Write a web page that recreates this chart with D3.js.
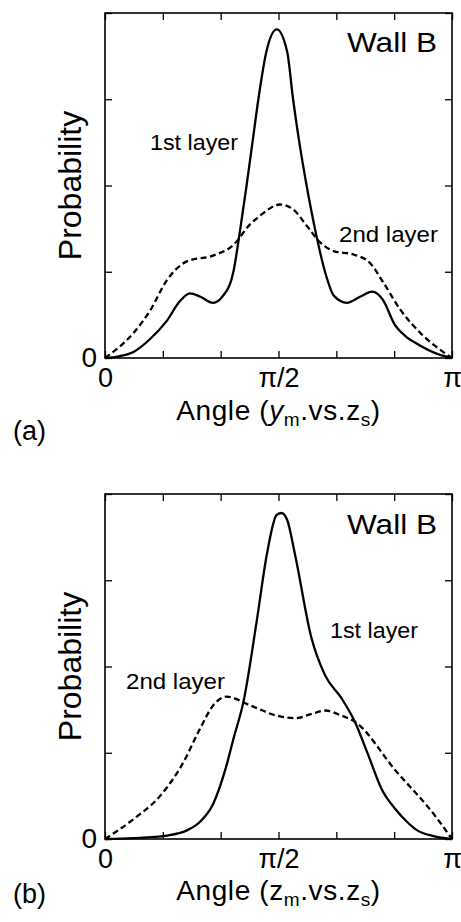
<!DOCTYPE html>
<html>
<head>
<meta charset="utf-8">
<script src="https://cdn.jsdelivr.net/npm/d3@7/dist/d3.min.js"></script>
<style>
  body { margin: 0; background: #fff; }
  text { font-family: "Liberation Sans", Arial, sans-serif; fill: #000; }
</style>
</head>
<body>
<div id="chart"></div>
<script>
// angles are in units of pi, probability in units of the y tick step

// panel (a): ym vs zs
let angA1 = [0, 0.04, 0.082, 0.13, 0.178, 0.216, 0.245, 0.275, 0.311, 0.34, 0.37, 0.39, 0.408, 0.425, 0.442, 0.465, 0.495, 0.525, 0.542, 0.56, 0.581, 0.605, 0.634, 0.66, 0.697, 0.735, 0.77, 0.80, 0.836, 0.87, 0.893, 0.95, 1]
let probA1 = [0, 0.02, 0.07, 0.22, 0.43, 0.66, 0.75, 0.71, 0.64, 0.72, 1.0, 1.5, 2.0, 2.5, 3.0, 3.55, 3.81, 3.55, 3.0, 2.5, 2.0, 1.5, 1.0, 0.72, 0.64, 0.71, 0.77, 0.68, 0.38, 0.24, 0.18, 0.06, 0]
let angA2 = [0, 0.082, 0.13, 0.178, 0.236, 0.313, 0.37, 0.418, 0.447, 0.504, 0.543, 0.582, 0.62, 0.659, 0.716, 0.764, 0.803, 0.851, 0.909, 1]
let probA2 = [0, 0.29, 0.55, 0.9, 1.12, 1.19, 1.31, 1.55, 1.65, 1.78, 1.72, 1.53, 1.34, 1.24, 1.2, 1.1, 0.87, 0.56, 0.29, 0]

// panel (b): zm vs zs
let angB1 = [0, 0.082, 0.178, 0.236, 0.274, 0.312, 0.35, 0.37, 0.399, 0.437, 0.466, 0.495, 0.509, 0.525, 0.548, 0.595, 0.634, 0.682, 0.72, 0.759, 0.797, 0.836, 0.87, 0.9, 0.95, 1]
let probB1 = [0, 0.01, 0.04, 0.1, 0.2, 0.41, 0.85, 1.16, 1.59, 2.52, 3.29, 3.76, 3.78, 3.7, 3.29, 2.33, 1.9, 1.63, 1.36, 0.97, 0.58, 0.35, 0.2, 0.1, 0.03, 0]
let angB2 = [0, 0.082, 0.159, 0.226, 0.274, 0.312, 0.35, 0.418, 0.495, 0.548, 0.595, 0.634, 0.682, 0.72, 0.836, 0.951, 1]
let probB2 = [0, 0.23, 0.5, 0.89, 1.28, 1.55, 1.65, 1.55, 1.43, 1.40, 1.45, 1.49, 1.43, 1.36, 0.8, 0.27, 0]

let xTicks = [0, 1/6, 2/6, 3/6, 4/6, 5/6, 1]
let xTickLabels = ["0", "", "", "\u03c0/2", "", "", "\u03c0"]
let yTicks = [0, 1, 2, 3, 4]
let seriesNames = ["1st layer", "2nd layer"]
let panelTags = ["(a)", "(b)"]
let wallName = "Wall B"
let yTitle = "Probability"

const W = 461, H = 922
const pw = 347, ph = 345

const svg = d3.select("#chart")
    .append("svg")
    .attr("width", W)
    .attr("height", H)

const x = d3.scaleLinear().domain([0, 1]).range([0, pw])
const y = d3.scaleLinear().domain([0, 4]).range([ph, 0])

const line = d3.line()
    .x(d => x(d[0]))
    .y(d => y(d[1]))
    .curve(d3.curveMonotoneX)

function drawPanel(top, s1, s2, opts) {
    const g = svg.append("g").attr("transform", `translate(105,${top})`)

    // axes with inward ticks on all four sides
    const bottom = g.append("g")
        .attr("transform", `translate(0,${ph})`)
        .call(d3.axisBottom(x).tickValues(xTicks).tickSize(-7).tickPadding(10)
            .tickFormat((d, i) => xTickLabels[i]))
    g.append("g")
        .call(d3.axisTop(x).tickValues(xTicks).tickSize(-7).tickFormat(""))
    const left = g.append("g")
        .call(d3.axisLeft(y).tickValues(yTicks).tickSize(-7).tickPadding(8)
            .tickFormat(d => d === 0 ? "0" : ""))
    g.append("g")
        .attr("transform", `translate(${pw},0)`)
        .call(d3.axisRight(y).tickValues(yTicks).tickSize(-7).tickFormat(""))

    g.selectAll(".domain").remove()
    g.selectAll(".tick line").attr("stroke", "#000").attr("stroke-width", 1.3)
    g.selectAll(".tick text").attr("font-size", 27).attr("fill", "#000")
        .attr("font-family", "Liberation Sans, Arial, sans-serif")
    bottom.selectAll(".tick text").attr("dy", "0.69em")
    left.selectAll(".tick text").attr("font-size", 28)

    g.append("rect")
        .attr("width", pw)
        .attr("height", ph)
        .attr("fill", "none")
        .attr("stroke", "#000")
        .attr("stroke-width", 1.6)

    g.append("path")
        .datum(s1)
        .attr("d", line)
        .attr("fill", "none")
        .attr("stroke", "#000")
        .attr("stroke-width", 2.3)
    g.append("path")
        .datum(s2)
        .attr("d", line)
        .attr("fill", "none")
        .attr("stroke", "#000")
        .attr("stroke-width", 2.3)
        .attr("stroke-dasharray", "6,3.5")

    g.append("text")
        .attr("x", 332).attr("y", opts.wallY)
        .attr("text-anchor", "end")
        .attr("font-size", 27)
        .attr("textLength", 90).attr("lengthAdjust", "spacingAndGlyphs")
        .text(wallName)

    g.append("text")
        .attr("x", opts.l1[0]).attr("y", opts.l1[1])
        .attr("font-size", 22.5)
        .attr("textLength", 88).attr("lengthAdjust", "spacingAndGlyphs")
        .text(seriesNames[0])
    g.append("text")
        .attr("x", opts.l2[0]).attr("y", opts.l2[1])
        .attr("font-size", 22.5)
        .attr("textLength", 99).attr("lengthAdjust", "spacingAndGlyphs")
        .text(seriesNames[1])

    g.append("text")
        .attr("transform", `translate(-24,${ph / 2}) rotate(-90)`)
        .attr("text-anchor", "middle")
        .attr("font-size", 32)
        .text(yTitle)

    const t = g.append("text")
        .attr("x", pw / 2).attr("y", opts.titleY)
        .attr("text-anchor", "middle")
        .attr("font-size", 28)
        .attr("letter-spacing", 0.6)
    t.append("tspan").text("Angle (")
    t.append("tspan").attr("font-style", opts.italic ? "italic" : "normal").text(opts.v)
    t.append("tspan").attr("font-size", 19).attr("dy", 6).text("m")
    t.append("tspan").attr("dy", -6).text(".vs.z")
    t.append("tspan").attr("font-size", 19).attr("dy", 6).text("s")
    t.append("tspan").attr("dy", -6).text(")")

    svg.append("text")
        .attr("x", 13).attr("y", opts.tagY)
        .attr("font-size", 27)
        .text(opts.tag)
}

drawPanel(13, d3.zip(angA1, probA1), d3.zip(angA2, probA2),
    { wallY: 39, l1: [45, 137], l2: [234, 229], titleY: 407, italic: true, v: "y", tag: panelTags[0], tagY: 440 })
drawPanel(494, d3.zip(angB1, probB1), d3.zip(angB2, probB2),
    { wallY: 40, l1: [225, 144], l2: [21, 195], titleY: 406, italic: false, v: "z", tag: panelTags[1], tagY: 903 })
</script>
</body>
</html>
